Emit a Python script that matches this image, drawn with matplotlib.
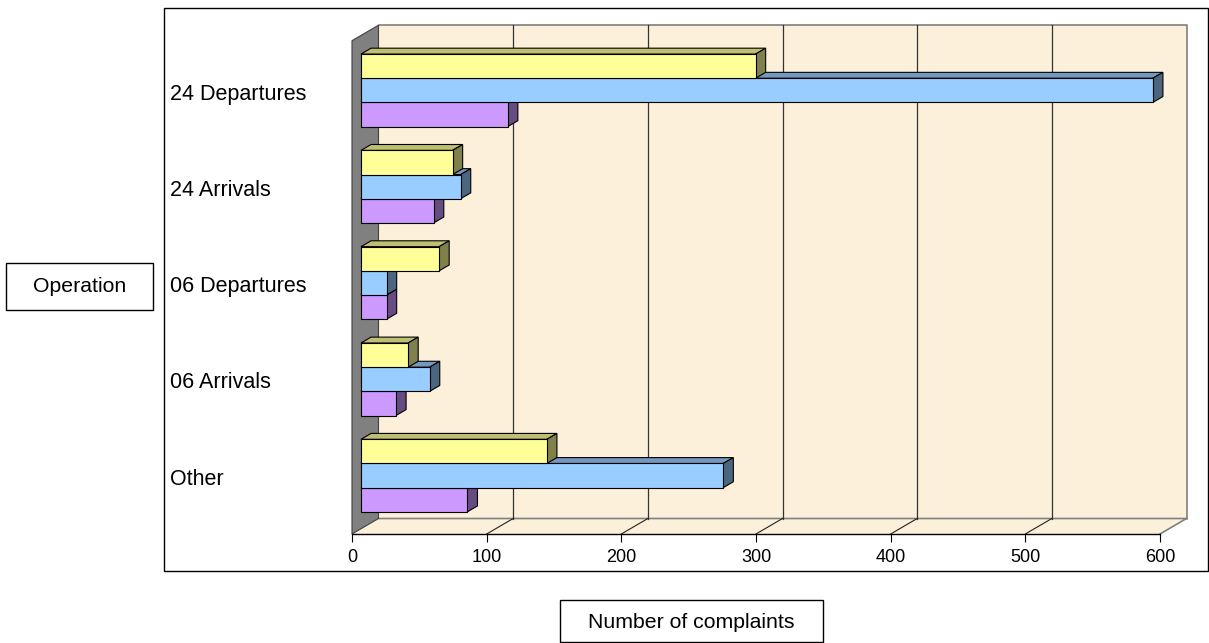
import matplotlib.pyplot as plt
from matplotlib.patches import Polygon, Rectangle

plt.rcParams['font.family'] = ['Liberation Sans', 'DejaVu Sans']

# data (bottom to top, as drawn)
categories = ['Other', '06 Arrivals', '06 Departures', '24 Arrivals', '24 Departures']
series_a = [138, 35, 58, 68, 293]   # yellow, top bar of each group
series_b = [269, 51, 19, 74, 588]   # blue, middle bar
series_c = [79, 26, 19, 54, 109]    # purple, bottom bar
xticks = [0, 100, 200, 300, 400, 500, 600]

W, H = 1209, 643
fig = plt.figure(figsize=(W / 100, H / 100), dpi=100)
fig.patch.set_facecolor('white')

# front plane of the 3d box
y0, y1 = -0.552, 4.570
ax_h = 493.3
ax = fig.add_axes([352 / W, (H - 534) / H, 808 / W, ax_h / H])
ax.set_xlim(0, 600)
ax.set_ylim(y0, y1)
ax.patch.set_alpha(0)

px_x = 600 / 808             # data units per pixel
px_y = (y1 - y0) / ax_h
DX = 26.5 * px_x             # depth offset of the back wall
DY = 15.5 * px_y


def P(x, y, d):
    return (x + d * DX, y + d * DY)


beige = '#FCF0DA'
# back wall
ax.add_patch(Polygon([P(0, y0, 1), P(600, y0, 1), P(600, y1, 1), P(0, y1, 1)],
                     closed=True, fc=beige, ec='none', clip_on=False, zorder=0))
ax.plot(*zip(P(0, y1, 1), P(600, y1, 1), P(600, y0, 1)), color='#808080', lw=1.2,
        clip_on=False, zorder=1)
# floor
ax.add_patch(Polygon([P(0, y0, 0), P(600, y0, 0), P(600, y0, 1), P(0, y0, 1)],
                     closed=True, fc=beige, ec='none', clip_on=False, zorder=0))
ax.plot(*zip(P(0, y0, 1), P(600, y0, 1), P(600, y0, 0)), color='#808080', lw=1.2,
        clip_on=False, zorder=1)
# left wall
ax.add_patch(Polygon([P(0, y0, 0), P(0, y0, 1), P(0, y1, 1), P(0, y1, 0)],
                     closed=True, fc='#808080', ec='#404040', lw=0.8, clip_on=False, zorder=1))
# gridlines on back wall and floor
for v in xticks[1:-1]:
    ax.plot(*zip(P(v, y0, 1), P(v, y1, 1)), color='#333333', lw=0.9, clip_on=False, zorder=1)
    ax.plot(*zip(P(v, y0, 0), P(v, y0, 1)), color='#222222', lw=0.8, clip_on=False, zorder=1)

# bars
h = 0.251
d0, d1 = 0.34, 0.72
styles = [
    (series_c, -h, '#CC99FF', '#9973BF', '#664C80'),
    (series_b, 0.0, '#99CCFF', '#7399BF', '#4C6680'),
    (series_a, h, '#FFFF99', '#BFBF73', '#80804C'),
]
z = 3
for i in range(len(categories)):
    for vals, off, front, top, side in styles:
        v = vals[i]
        yb = i + off - h / 2
        yt = i + off + h / 2
        ax.add_patch(Polygon([P(0, yt, d0), P(v, yt, d0), P(v, yt, d1), P(0, yt, d1)],
                             closed=True, fc=top, ec='black', lw=0.8, zorder=z, clip_on=False))
        ax.add_patch(Polygon([P(v, yb, d0), P(v, yb, d1), P(v, yt, d1), P(v, yt, d0)],
                             closed=True, fc=side, ec='black', lw=0.8, zorder=z, clip_on=False))
        ax.barh(i + off + d0 * DY, v, height=h, left=d0 * DX, color=front,
                edgecolor='black', lw=0.8, zorder=z + 0.5, clip_on=False)
        z += 1

# axes
for s in ['top', 'right', 'left']:
    ax.spines[s].set_visible(False)
ax.spines['bottom'].set_color('black')
ax.spines['bottom'].set_linewidth(1)
ax.spines['bottom'].set_zorder(2)
ax.set_xticks(xticks)
ax.tick_params(axis='x', direction='out', length=5.5, width=0.8, pad=5, labelsize=13)
ax.set_yticks([i + 0.042 for i in range(len(categories))], categories)
ax.tick_params(axis='y', length=0, pad=131, labelsize=15.5)
for lab in ax.get_yticklabels():
    lab.set_ha('left')


def box(x0, yy0, x1, yy1):
    fig.add_artist(Rectangle((x0 / W, 1 - yy1 / H), (x1 - x0) / W, (yy1 - yy0) / H,
                             transform=fig.transFigure, fill=False, ec='black', lw=1))


box(164, 8, 1207.5, 571)
box(6, 263, 153, 310)
box(560, 600, 823, 641.5)
fig.text(79.5 / W, 1 - 287 / H, 'Operation', ha='center', va='center', fontsize=15.3)
fig.text(691.5 / W, 1 - 622 / H, 'Number of complaints', ha='center', va='center', fontsize=15.3)

fig.savefig('out.png', dpi=100)
